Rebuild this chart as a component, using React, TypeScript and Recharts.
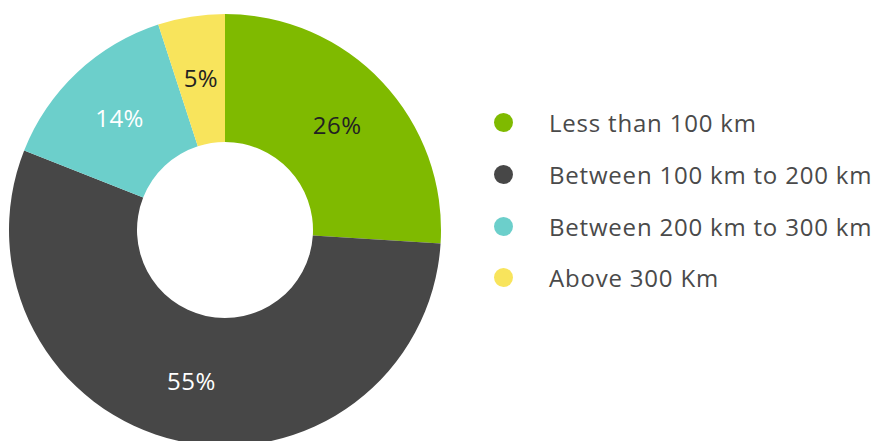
import { PieChart, Pie, Cell } from 'recharts';

const categories = [
  'Less than 100 km',
  'Between 100 km to 200 km',
  'Between 200 km to 300 km',
  'Above 300 Km',
];
const shares = [26, 55, 14, 5];
const colors = ['#7fba00', '#474747', '#6ccfcb', '#f8e45c'];
const labelColors = ['#222222', '#ffffff', '#ffffff', '#222222'];

const data = categories.map((name, i) => ({ name, value: shares[i] }));

const FONT = '"Open Sans", Lato, sans-serif';
const RAD = Math.PI / 180;

const renderLabel = ({ cx, cy, midAngle, innerRadius, outerRadius, index }: any) => {
  const r = (innerRadius + outerRadius) / 2 + 2;
  const x = cx + r * Math.cos(-midAngle * RAD);
  const y = cy + r * Math.sin(-midAngle * RAD);
  return (
    <text
      x={x}
      y={y}
      fill={labelColors[index]}
      textAnchor="middle"
      dominantBaseline="central"
      fontSize={24}
      letterSpacing={0.5}
      fontFamily={FONT}
    >
      {`${shares[index]}%`}
    </text>
  );
};

export default function App() {
  return (
    <div style={{ position: 'absolute', left: 0, top: 0, width: 879, height: 441, background: '#fff', overflow: 'hidden' }}>
      <PieChart width={879} height={441} margin={{ top: 0, right: 0, bottom: 0, left: 0 }}>
        <Pie
          data={data}
          dataKey="value"
          cx={225}
          cy={230}
          innerRadius={88}
          outerRadius={216}
          startAngle={90}
          endAngle={-270}
          stroke="none"
          label={renderLabel}
          labelLine={false}
          isAnimationActive={false}
        >
          {data.map((d, i) => (
            <Cell key={d.name} fill={colors[i]} />
          ))}
        </Pie>
      </PieChart>

      {/* Legend */}
      <div style={{ position: 'absolute', left: 494, top: 97, fontFamily: FONT }}>
        {categories.map((c, i) => (
          <div key={c} style={{ display: 'flex', alignItems: 'center', height: 51.7 }}>
            <span
              style={{
                width: 19,
                height: 19,
                borderRadius: '50%',
                background: colors[i],
                display: 'inline-block',
                marginRight: 36,
                flexShrink: 0,
              }}
            />
            <span style={{ fontSize: 24, letterSpacing: 0.8, color: '#4a4a4a', whiteSpace: 'nowrap' }}>{c}</span>
          </div>
        ))}
      </div>
    </div>
  );
}
